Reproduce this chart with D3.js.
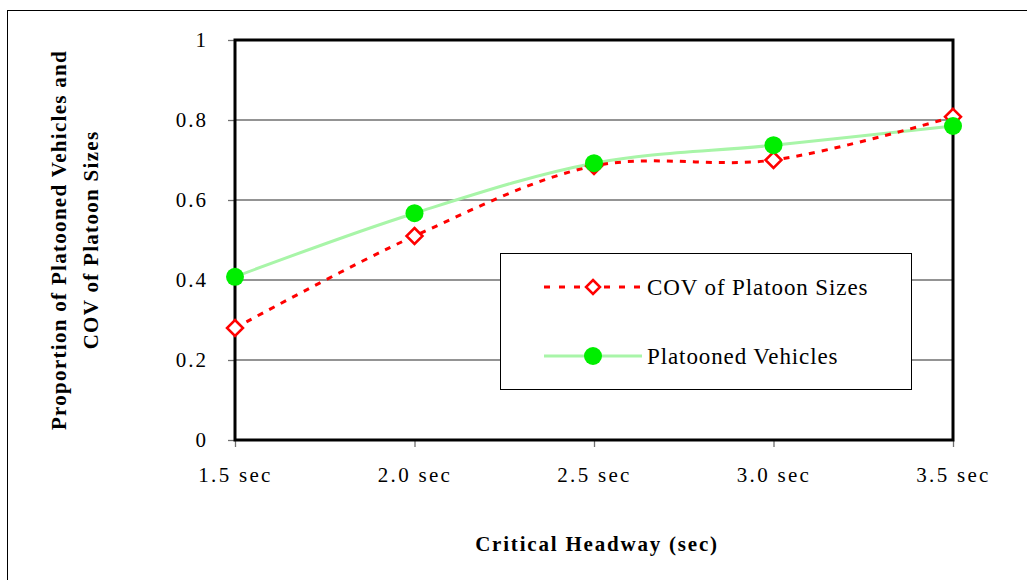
<!DOCTYPE html>
<html><head><meta charset="utf-8">
<script src="https://cdn.jsdelivr.net/npm/d3@7"></script>
<style>body{margin:0;background:#fff}svg{display:block}</style>
</head><body>
<svg id="c" width="1027" height="580"></svg>
<script>
const categories = ["1.5 sec","2.0 sec","2.5 sec","3.0 sec","3.5 sec"];
const covValues = [0.28, 0.51, 0.685, 0.70, 0.808];
const platoonValues = [0.408, 0.567, 0.692, 0.737, 0.785];
const yTicks = [0, 0.2, 0.4, 0.6, 0.8, 1];
const seriesNames = ["COV of Platoon Sizes", "Platooned Vehicles"];

const svg = d3.select("#c");
const font = "'Liberation Serif','Times New Roman',serif";
// outer frame
svg.append("rect").attr("x",7.5).attr("y",10.5).attr("width",1030).attr("height",600)
  .attr("fill","none").attr("stroke","#000").attr("stroke-width",1);

const L=235, R=953, T=40, B=440;
const x = d3.scalePoint().domain(categories).range([L,R]);
const y = d3.scaleLinear().domain([0,1]).range([B,T]);

// gridlines
svg.append("g").selectAll("line").data(yTicks.filter(d=>d>0&&d<1)).join("line")
  .attr("x1",L).attr("x2",R).attr("y1",d=>y(d)).attr("y2",d=>y(d))
  .attr("stroke","#707070").attr("stroke-width",1.3);

// y axis
const ya = svg.append("g").attr("transform",`translate(${L},0)`)
  .call(d3.axisLeft(y).tickValues(yTicks).tickSize(7).tickPadding(20).tickFormat(d=>d3.format("")(d)));
ya.select(".domain").remove();
ya.selectAll(".tick line").attr("stroke","#707070").attr("stroke-width",1.3);
ya.selectAll("text").attr("font-family",font).attr("font-size",21).attr("letter-spacing","2px").attr("fill","#000");

// x axis
const xa = svg.append("g").attr("transform",`translate(0,${B})`)
  .call(d3.axisBottom(x).tickSize(7).tickPadding(20));
xa.select(".domain").remove();
xa.selectAll(".tick line").attr("stroke","#707070").attr("stroke-width",1.3);
xa.selectAll("text").attr("font-family",font).attr("font-size",21).attr("letter-spacing","2.3px").attr("fill","#000");

// plot frame
svg.append("rect").attr("x",L).attr("y",T).attr("width",R-L).attr("height",B-T)
  .attr("fill","none").attr("stroke","#000").attr("stroke-width",3);

const line = d3.line().x((d,i)=>x(categories[i])).y(d=>y(d)).curve(d3.curveCatmullRom.alpha(0.5));

// platooned line
svg.append("path").datum(platoonValues).attr("d",line).attr("fill","none")
  .attr("stroke","#a8f5a8").attr("stroke-width",3);
// cov line
svg.append("path").datum(covValues).attr("d",line).attr("fill","none")
  .attr("stroke","#ff0000").attr("stroke-width",3).attr("stroke-dasharray","6,7");

const diamond = (cx,cy,s)=>`M${cx},${cy-s}L${cx+s},${cy}L${cx},${cy+s}L${cx-s},${cy}Z`;
svg.append("g").selectAll("path").data(covValues).join("path")
  .attr("d",(d,i)=>diamond(x(categories[i]),y(d),8))
  .attr("fill","#fff").attr("stroke","#ff0000").attr("stroke-width",2.5);
svg.append("g").selectAll("circle").data(platoonValues).join("circle")
  .attr("cx",(d,i)=>x(categories[i])).attr("cy",d=>y(d)).attr("r",9)
  .attr("fill","#00ee00");

// legend
const lg = svg.append("g");
lg.append("rect").attr("x",500.5).attr("y",253.5).attr("width",411).attr("height",136)
  .attr("fill","#fff").attr("stroke","#000").attr("stroke-width",1);
const ly = [287, 356];
lg.append("line").attr("x1",544).attr("x2",642).attr("y1",ly[0]).attr("y2",ly[0])
  .attr("stroke","#ff0000").attr("stroke-width",3).attr("stroke-dasharray","6,9").attr("stroke-dashoffset",0);
lg.append("path").attr("d",diamond(593,ly[0],7)).attr("fill","#fff").attr("stroke","#ff0000").attr("stroke-width",2.5);
lg.append("line").attr("x1",544).attr("x2",642).attr("y1",ly[1]).attr("y2",ly[1])
  .attr("stroke","#a8f5a8").attr("stroke-width",3);
lg.append("circle").attr("cx",593).attr("cy",ly[1]).attr("r",9).attr("fill","#00ee00");
lg.selectAll("text").data(seriesNames).join("text")
  .attr("x",647).attr("y",(d,i)=>ly[i]).attr("dy","0.35em")
  .attr("font-family",font).attr("font-size",23).attr("letter-spacing","0.9px").attr("fill","#000").text(d=>d);

// axis titles
svg.append("text").attr("x",597).attr("y",551).attr("text-anchor","middle")
  .attr("font-family",font).attr("font-weight","bold").attr("font-size",21).attr("letter-spacing","1.8px").text("Critical Headway (sec)");
const yt = svg.append("text").attr("transform","translate(0,240) rotate(-90)")
  .attr("text-anchor","middle").attr("font-family",font).attr("font-weight","bold").attr("font-size",21).attr("letter-spacing","1.3px");
yt.append("tspan").attr("x",0).attr("y",66).text("Proportion of Platooned Vehicles and");
yt.append("tspan").attr("x",0).attr("y",98).text("COV of Platoon Sizes");
</script>
</body></html>
